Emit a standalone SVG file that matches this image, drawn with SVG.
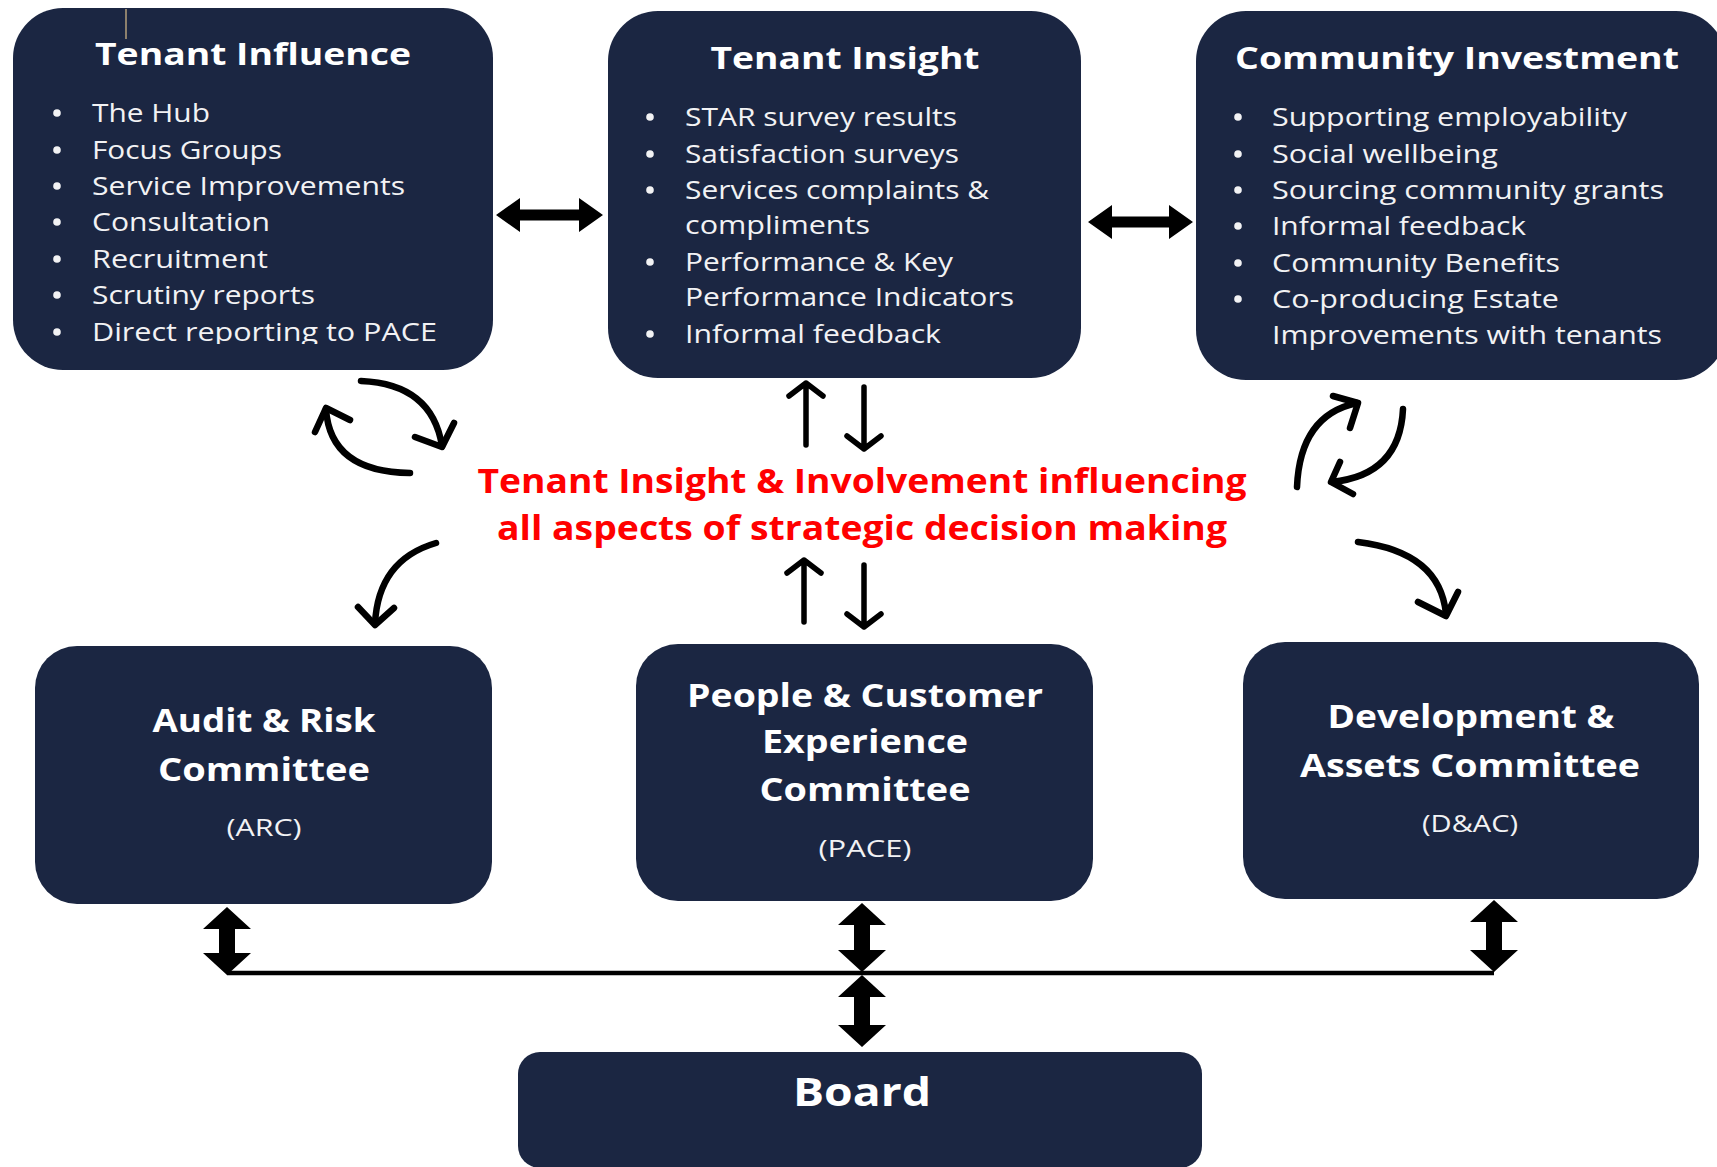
<svg xmlns="http://www.w3.org/2000/svg" width="1717" height="1167" viewBox="0 0 1717 1167">
  <style>
    .box { fill: #1b2642; }
    .title { font-family: "Open Sans", "Liberation Sans", sans-serif; font-weight: 700; font-size: 30px; fill: #ffffff; text-anchor: middle; }
    .item { font-family: "Open Sans", "Liberation Sans", sans-serif; font-weight: 500; font-size: 26px; fill: #f2f2f4; }
    .ctitle { font-family: "Open Sans", "Liberation Sans", sans-serif; font-weight: 700; font-size: 33px; fill: #ffffff; text-anchor: middle; }
    .abbr { font-family: "Open Sans", "Liberation Sans", sans-serif; font-weight: 500; font-size: 24px; fill: #f2f2f4; text-anchor: middle; }
    .board { font-family: "Open Sans", "Liberation Sans", sans-serif; font-weight: 700; font-size: 40px; fill: #ffffff; text-anchor: middle; }
    .lead { font-family: "Open Sans", "Liberation Sans", sans-serif; font-weight: 700; font-size: 34px; fill: #ff0000; text-anchor: middle; }
    .dot { fill: #f2f2f4; }
    .curve { fill: none; stroke: #000000; stroke-width: 6.5; stroke-linecap: round; stroke-linejoin: round; }
    .thin { fill: none; stroke: #000000; stroke-width: 5.5; stroke-linecap: round; stroke-linejoin: round; }
    .block { fill: #000000; }
    .bus { stroke: #000000; stroke-width: 4.5; fill: none; }
  </style>
  <defs>
    <clipPath id="lastLineClip">
      <rect x="80" y="310" width="400" height="34"/>
    </clipPath>
  </defs>

  <rect width="1717" height="1167" fill="#ffffff"/>

  <!-- Tenant Influence -->
  <g id="tenant-influence">
    <rect class="box" x="13" y="8" width="480" height="362" rx="50" ry="50"/>
    <line x1="126" y1="9" x2="126" y2="39" stroke="#b59f7b" stroke-width="1.5"/>
    <text class="title" x="253" y="65" textLength="316" lengthAdjust="spacingAndGlyphs">Tenant Influence</text>
    <circle class="dot" cx="57" cy="113" r="3.8"/>
    <circle class="dot" cx="57" cy="150" r="3.8"/>
    <circle class="dot" cx="57" cy="186" r="3.8"/>
    <circle class="dot" cx="57" cy="222" r="3.8"/>
    <circle class="dot" cx="57" cy="259" r="3.8"/>
    <circle class="dot" cx="57" cy="295" r="3.8"/>
    <circle class="dot" cx="57" cy="332" r="3.8"/>
    <text class="item" x="92" y="122" textLength="118" lengthAdjust="spacingAndGlyphs">The Hub</text>
    <text class="item" x="92" y="159" textLength="190" lengthAdjust="spacingAndGlyphs">Focus Groups</text>
    <text class="item" x="92" y="195" textLength="313" lengthAdjust="spacingAndGlyphs">Service Improvements</text>
    <text class="item" x="92" y="231" textLength="178" lengthAdjust="spacingAndGlyphs">Consultation</text>
    <text class="item" x="92" y="268" textLength="176" lengthAdjust="spacingAndGlyphs">Recruitment</text>
    <text class="item" x="92" y="304" textLength="223" lengthAdjust="spacingAndGlyphs">Scrutiny reports</text>
    <text class="item" x="92" y="341" textLength="345" lengthAdjust="spacingAndGlyphs" clip-path="url(#lastLineClip)">Direct reporting to PACE</text>
  </g>

  <!-- Tenant Insight -->
  <g id="tenant-insight">
    <rect class="box" x="608" y="11" width="473" height="367" rx="50" ry="50"/>
    <text class="title" x="845" y="69" textLength="269" lengthAdjust="spacingAndGlyphs">Tenant Insight</text>
    <circle class="dot" cx="650" cy="117" r="3.8"/>
    <circle class="dot" cx="650" cy="154" r="3.8"/>
    <circle class="dot" cx="650" cy="190" r="3.8"/>
    <circle class="dot" cx="650" cy="262" r="3.8"/>
    <circle class="dot" cx="650" cy="334" r="3.8"/>
    <text class="item" x="685" y="126" textLength="272" lengthAdjust="spacingAndGlyphs">STAR survey results</text>
    <text class="item" x="685" y="163" textLength="274" lengthAdjust="spacingAndGlyphs">Satisfaction surveys</text>
    <text class="item" x="685" y="199" textLength="304" lengthAdjust="spacingAndGlyphs">Services complaints &amp;</text>
    <text class="item" x="685" y="234" textLength="185" lengthAdjust="spacingAndGlyphs">compliments</text>
    <text class="item" x="685" y="271" textLength="268" lengthAdjust="spacingAndGlyphs">Performance &amp; Key</text>
    <text class="item" x="685" y="306" textLength="329" lengthAdjust="spacingAndGlyphs">Performance Indicators</text>
    <text class="item" x="685" y="343" textLength="256" lengthAdjust="spacingAndGlyphs">Informal feedback</text>
  </g>

  <!-- Community Investment -->
  <g id="community-investment">
    <rect class="box" x="1196" y="11" width="530" height="369" rx="50" ry="50"/>
    <text class="title" x="1457" y="69" textLength="444" lengthAdjust="spacingAndGlyphs">Community Investment</text>
    <circle class="dot" cx="1238" cy="117" r="3.8"/>
    <circle class="dot" cx="1238" cy="154" r="3.8"/>
    <circle class="dot" cx="1238" cy="190" r="3.8"/>
    <circle class="dot" cx="1238" cy="226" r="3.8"/>
    <circle class="dot" cx="1238" cy="263" r="3.8"/>
    <circle class="dot" cx="1238" cy="299" r="3.8"/>
    <text class="item" x="1272" y="126" textLength="355" lengthAdjust="spacingAndGlyphs">Supporting employability</text>
    <text class="item" x="1272" y="163" textLength="226" lengthAdjust="spacingAndGlyphs">Social wellbeing</text>
    <text class="item" x="1272" y="199" textLength="392" lengthAdjust="spacingAndGlyphs">Sourcing community grants</text>
    <text class="item" x="1272" y="235" textLength="254" lengthAdjust="spacingAndGlyphs">Informal feedback</text>
    <text class="item" x="1272" y="272" textLength="288" lengthAdjust="spacingAndGlyphs">Community Benefits</text>
    <text class="item" x="1272" y="308" textLength="287" lengthAdjust="spacingAndGlyphs">Co-producing Estate</text>
    <text class="item" x="1272" y="344" textLength="390" lengthAdjust="spacingAndGlyphs">Improvements with tenants</text>
  </g>

  <!-- Central statement -->
  <g id="statement">
    <text class="lead" x="862" y="493" textLength="769" lengthAdjust="spacingAndGlyphs">Tenant Insight &amp; Involvement influencing</text>
    <text class="lead" x="862" y="540" textLength="730" lengthAdjust="spacingAndGlyphs">all aspects of strategic decision making</text>
  </g>

  <!-- Audit & Risk Committee -->
  <g id="arc">
    <rect class="box" x="35" y="646" width="457" height="258" rx="42" ry="42"/>
    <text class="ctitle" x="264" y="732" textLength="223" lengthAdjust="spacingAndGlyphs">Audit &amp; Risk</text>
    <text class="ctitle" x="264" y="781" textLength="212" lengthAdjust="spacingAndGlyphs">Committee</text>
    <text class="abbr" x="264" y="836" textLength="75" lengthAdjust="spacingAndGlyphs">(ARC)</text>
  </g>

  <!-- People & Customer Experience Committee -->
  <g id="pace">
    <rect class="box" x="636" y="644" width="457" height="257" rx="42" ry="42"/>
    <text class="ctitle" x="865" y="707" textLength="356" lengthAdjust="spacingAndGlyphs">People &amp; Customer</text>
    <text class="ctitle" x="865" y="753" textLength="206" lengthAdjust="spacingAndGlyphs">Experience</text>
    <text class="ctitle" x="865" y="801" textLength="211" lengthAdjust="spacingAndGlyphs">Committee</text>
    <text class="abbr" x="865" y="857" textLength="93" lengthAdjust="spacingAndGlyphs">(PACE)</text>
  </g>

  <!-- Development & Assets Committee -->
  <g id="dac">
    <rect class="box" x="1243" y="642" width="456" height="257" rx="42" ry="42"/>
    <text class="ctitle" x="1471" y="728" textLength="287" lengthAdjust="spacingAndGlyphs">Development &amp;</text>
    <text class="ctitle" x="1470" y="777" textLength="340" lengthAdjust="spacingAndGlyphs">Assets Committee</text>
    <text class="abbr" x="1470" y="832" textLength="96" lengthAdjust="spacingAndGlyphs">(D&amp;AC)</text>
  </g>

  <!-- Board -->
  <g id="board">
    <rect class="box" x="518" y="1052" width="684" height="116" rx="22" ry="22"/>
    <text class="board" x="862" y="1106" textLength="138" lengthAdjust="spacingAndGlyphs">Board</text>
  </g>

  <!-- Connectors -->
  <g id="connectors">
    <!-- block double arrows between the top boxes -->
    <polygon class="block" points="496,215 520,198 520,209.5 579,209.5 579,198 603,215 579,232 579,220.5 520,220.5 520,232"/>
    <polygon class="block" points="1088,222 1112,205 1112,216.5 1169,216.5 1169,205 1193,222 1169,239 1169,227.5 1112,227.5 1112,239"/>

    <!-- thin up / down arrows around the statement -->
    <path class="thin" d="M806,445 L806,383 M789,396 L806,383 L823,396"/>
    <path class="thin" d="M864,387 L864,449 M847,436 L864,449 L881,436"/>
    <path class="thin" d="M804,622 L804,560 M787,573 L804,560 L821,573"/>
    <path class="thin" d="M864,565 L864,627 M847,614 L864,627 L881,614"/>

    <!-- curved arrows, left side -->
    <path class="curve" d="M361,381 Q432,384 442,446"/>
    <path class="curve" d="M415,437 L442,447 L454,423"/>
    <path class="curve" d="M410,473 Q330,472 326,409"/>
    <path class="curve" d="M315,432 L326,408 L350,420"/>
    <path class="curve" d="M436,543 Q378,560 375,624"/>
    <path class="curve" d="M358,607 L375,625 L394,608"/>

    <!-- curved arrows, right side -->
    <path class="curve" d="M1297,487 Q1300,415 1357,403"/>
    <path class="curve" d="M1333,396 L1358,403 L1350,428"/>
    <path class="curve" d="M1403,409 Q1400,475 1332,482"/>
    <path class="curve" d="M1340,462 L1331,482 L1353,494"/>
    <path class="curve" d="M1358,542 Q1440,552 1446,614"/>
    <path class="curve" d="M1418,602 L1446,616 L1458,592"/>

    <!-- committees to Board -->
    <line class="bus" x1="227" y1="973" x2="1494" y2="973"/>
    <polygon class="block" points="227,907 251,929 235,929 235,953 251,953 227,975 203,953 219,953 219,929 203,929"/>
    <polygon class="block" points="862,903 886,925 870,925 870,950 886,950 862,972 838,950 854,950 854,925 838,925"/>
    <polygon class="block" points="1494,900 1518,922 1502,922 1502,950 1518,950 1494,972 1470,950 1486,950 1486,922 1470,922"/>
    <polygon class="block" points="862,975 886,997 870,997 870,1025 886,1025 862,1047 838,1025 854,1025 854,997 838,997"/>
  </g>
</svg>
